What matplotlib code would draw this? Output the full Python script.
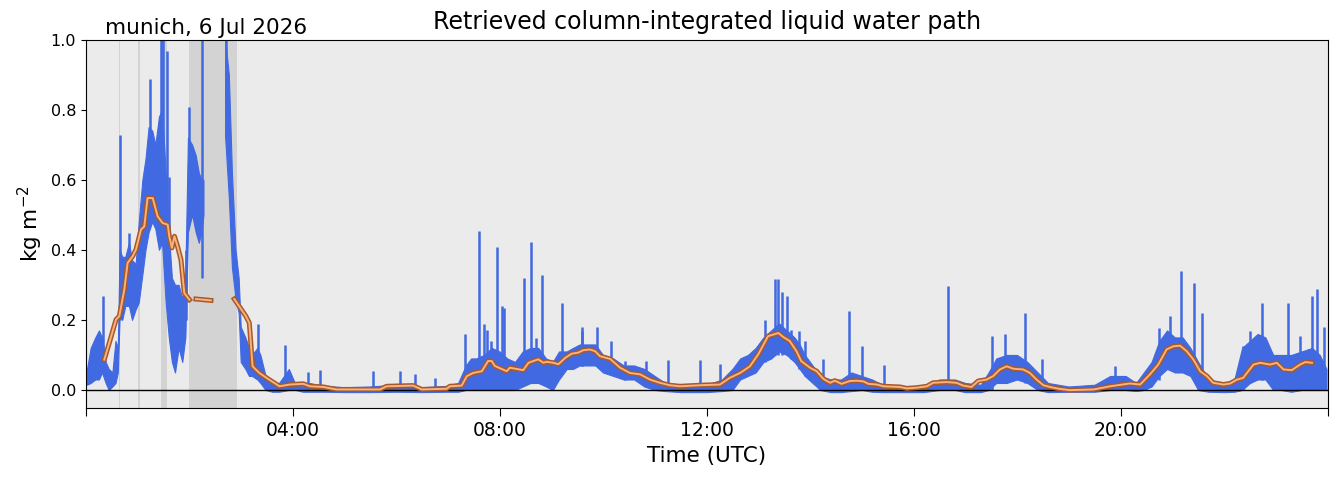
import numpy as np
import matplotlib
matplotlib.use("Agg")
import matplotlib.pyplot as plt
import matplotlib.patheffects as pe

# --- retrieved LWP: lower/upper edge of the dense point cloud (hours UTC, kg m-2)
band_t = [0.03, 0.10, 0.19, 0.26, 0.32, 0.39, 0.45, 0.52, 0.58, 0.625, 0.66, 0.71, 0.77, 0.84, 0.90,
          0.97, 1.03, 1.10, 1.16, 1.22, 1.29, 1.35, 1.42, 1.48, 1.55, 1.61, 1.67, 1.73, 1.80, 1.87,
          1.93, 1.98, 2.06, 2.13, 2.19, 2.24, 2.28, 2.50, 2.70, 2.77, 2.83, 2.90, 2.96, 3.00, 3.09,
          3.16, 3.22, 3.32, 3.38, 3.48, 3.61, 3.74, 3.93, 4.06, 4.2, 4.33, 4.6, 5.0, 5.5, 6.0, 6.5,
          7.0, 7.2, 7.35, 7.45, 7.55, 7.7, 7.85, 8.0, 8.15, 8.3, 8.45, 8.6, 8.75, 8.9, 9.03, 9.15,
          9.3, 9.42, 9.55, 9.7, 9.85, 10.0, 10.2, 10.4, 10.6, 10.8, 11.0, 11.2, 11.5, 12.0, 12.3,
          12.5, 12.65, 12.8, 12.95, 13.1, 13.25, 13.4, 13.55, 13.7, 13.8, 13.9, 14.05, 14.2, 14.4,
          14.6, 14.8, 15.0, 15.2, 15.4, 15.8, 16.2, 16.5, 16.8, 17.0, 17.3, 17.45, 17.6, 17.8, 18.0,
          18.2, 18.4, 18.6, 19.0, 19.5, 19.8, 20.1, 20.3, 20.45, 20.6, 20.75, 20.9, 21.05, 21.2,
          21.35, 21.5, 21.7, 22.0, 22.2, 22.35, 22.5, 22.65, 22.8, 22.95, 23.1, 23.3, 23.5, 23.7,
          23.85, 23.98]
band_lo = [0.015, 0.02, 0.03, 0.03, 0.05, 0.02, 0.00, 0.01, 0.02, 0.05, 0.21, 0.20, 0.24, 0.24, 0.20,
           0.23, 0.25, 0.33, 0.40, 0.45, 0.48, 0.46, 0.40, 0.42, 0.25, 0.15, 0.08, 0.05, 0.12, 0.08,
           0.15, 0.45, 0.50, 0.45, 0.42, 0.45, 0.50, np.nan, 0.72, 0.55, 0.35, 0.26, 0.22, 0.08, 0.06,
           0.04, 0.04, 0.03, 0.02, 0.00, -0.005, -0.005, 0.00, 0.00, -0.005, -0.005, -0.005, -0.006,
           -0.006, -0.005, -0.006, -0.005, -0.005, 0.00, 0.00, 0.00, 0.00, 0.00, 0.00, 0.00, 0.00,
           0.01, 0.02, 0.02, 0.01, 0.00, 0.03, 0.06, 0.06, 0.07, 0.07, 0.07, 0.05, 0.04, 0.03, 0.03,
           0.01, 0.00, -0.003, -0.006, -0.006, -0.003, 0.00, 0.03, 0.04, 0.05, 0.08, 0.09, 0.11, 0.10,
           0.08, 0.06, 0.04, 0.02, 0.00, -0.006, -0.006, -0.003, 0.00, -0.005, -0.006, -0.006, -0.006,
           0.00, 0.00, -0.006, -0.006, 0.00, 0.02, 0.02, 0.03, 0.02, 0.00, -0.006, -0.005, -0.005,
           0.00, 0.00, -0.003, 0.00, 0.01, 0.04, 0.06, 0.05, 0.05, 0.04, 0.00, -0.005, -0.006, -0.005,
           0.00, 0.02, 0.03, 0.03, 0.00, 0.00, -0.005, 0.00, 0.00, 0.00, 0.00]
band_hi = [0.06, 0.12, 0.15, 0.17, 0.15, 0.08, 0.06, 0.05, 0.14, 0.12, 0.40, 0.38, 0.38, 0.42, 0.37,
           0.36, 0.48, 0.60, 0.66, 0.75, 0.74, 0.70, 0.78, 0.80, 0.62, 0.45, 0.32, 0.30, 0.30, 0.26,
           0.33, 0.72, 0.70, 0.67, 0.62, 0.60, 0.60, np.nan, 1.00, 0.90, 0.62, 0.40, 0.32, 0.18, 0.15,
           0.12, 0.10, 0.12, 0.10, 0.04, 0.02, 0.02, 0.06, 0.015, 0.01, 0.02, 0.012, 0.008, 0.01,
           0.015, 0.008, 0.012, 0.02, 0.07, 0.09, 0.09, 0.10, 0.12, 0.11, 0.09, 0.08, 0.11, 0.12,
           0.12, 0.09, 0.08, 0.11, 0.11, 0.12, 0.13, 0.13, 0.13, 0.10, 0.09, 0.07, 0.07, 0.06, 0.04,
           0.02, 0.015, 0.015, 0.03, 0.06, 0.09, 0.10, 0.12, 0.15, 0.17, 0.19, 0.17, 0.15, 0.13, 0.10,
           0.07, 0.04, 0.03, 0.03, 0.05, 0.04, 0.03, 0.015, 0.01, 0.012, 0.03, 0.03, 0.02, 0.015,
           0.05, 0.09, 0.10, 0.10, 0.08, 0.05, 0.02, 0.01, 0.015, 0.04, 0.04, 0.02, 0.05, 0.08, 0.14,
           0.17, 0.15, 0.15, 0.12, 0.08, 0.03, 0.02, 0.03, 0.12, 0.14, 0.16, 0.15, 0.10, 0.10, 0.10,
           0.11, 0.12, 0.10, 0.06]

# narrow vertical streaks of points sticking out of the cloud
spike_t = [0.32, 0.655, 0.84, 1.24, 1.45, 1.49, 1.56, 1.60, 1.93, 1.99, 2.25, 2.71, 3.32, 3.85, 4.29,
           4.52, 5.55, 6.07, 6.36, 6.74, 7.32, 7.59, 7.70, 7.75, 7.82, 7.94, 8.03, 8.08, 8.47, 8.60,
           8.70, 8.82, 9.19, 9.58, 9.59, 9.87, 10.14, 10.42, 10.83, 11.24, 11.86, 12.25, 13.12, 13.32,
           13.38, 13.45, 13.54, 13.62, 13.78, 13.89, 14.25, 14.75, 14.99, 15.42, 16.65, 17.51, 17.75,
           18.14, 18.47, 19.88, 20.74, 20.95, 21.16, 21.41, 21.56, 22.35, 22.50, 22.72, 23.23, 23.46,
           23.69, 23.79, 23.92]
spike_base = [0.05, 0.20, 0.30, 0.50, 0.50, 0.45, 0.50, 0.30, 0.20, 0.50, 0.32, 0.72, 0.05, 0.0, 0.0,
              0.0, 0.0, 0.0, 0.0, 0.0, 0.0, 0.05, 0.05, 0.05, 0.03, 0.05, 0.05, 0.05, 0.05, 0.05,
              0.05, 0.05, 0.08, 0.07, 0.07, 0.07, 0.05, 0.03, 0.01, 0.0, 0.0, 0.0, 0.08, 0.10,
              0.10, 0.10, 0.10, 0.09, 0.06, 0.04, 0.0, 0.0, 0.0, 0.0, 0.03, 0.0, 0.02,
              0.02, 0.0, 0.0, 0.03, 0.06, 0.06, 0.04, 0.0, 0.0, 0.02, 0.03, 0.0, 0.0,
              0.0, 0.0, 0.0]
spike_top = [0.27, 0.73, 0.45, 0.89, 1.00, 1.00, 0.97, 0.61, 0.40, 0.81, 1.00, 1.00, 0.19, 0.13, 0.053,
             0.058, 0.055, 0.055, 0.048, 0.035, 0.16, 0.454, 0.19, 0.174, 0.14, 0.41, 0.24, 0.236, 0.32,
             0.425, 0.15, 0.33, 0.25, 0.18, 0.17, 0.18, 0.14, 0.084, 0.084, 0.088, 0.088, 0.077, 0.20,
             0.317, 0.317, 0.28, 0.27, 0.174, 0.17, 0.14, 0.09, 0.226, 0.126, 0.074, 0.297, 0.155,
             0.16, 0.221, 0.09, 0.069, 0.178, 0.212, 0.34, 0.306, 0.22, 0.126, 0.17, 0.25, 0.25,
             0.155, 0.27, 0.29, 0.18]

# smoothed LWP (NaN = gap)
smooth_t = [0.354, 0.451, 0.58, 0.644, 0.741, 0.805, 0.902, 0.966, 1.063, 1.127, 1.19, 1.29, 1.385,
            1.48, 1.58, 1.61, 1.66, 1.71, 1.77, 1.836, 1.90, 2.0, 2.06, 2.126, 2.415, 2.6, 2.866,
            2.963, 3.09, 3.156, 3.22, 3.35, 3.54, 3.74, 3.94, 4.2, 4.33, 4.59, 4.84, 5.68, 5.81, 6.32,
            6.49, 6.97, 7.03, 7.26, 7.36, 7.48, 7.65, 7.77, 7.84, 7.90, 8.13, 8.19, 8.45, 8.55, 8.74,
            8.84, 8.90, 9.03, 9.13, 9.26, 9.385, 9.51, 9.61, 9.74, 9.84, 9.93, 10.13, 10.32, 10.51,
            10.71, 10.90, 11.09, 11.28, 11.48, 11.86, 12.25, 12.44, 12.64, 12.83, 12.99, 13.18, 13.38,
            13.47, 13.60, 13.73, 13.82, 13.99, 14.12, 14.25, 14.38, 14.47, 14.60, 14.76, 14.89, 15.02,
            15.12, 15.28, 15.41, 15.73, 15.86, 16.05, 16.25, 16.37, 16.63, 16.82, 16.95, 17.11, 17.24,
            17.40, 17.53, 17.66, 17.79, 17.92, 18.11, 18.24, 18.37, 18.50, 18.63, 18.8, 19.01, 19.47,
            19.79, 20.17, 20.37, 20.56, 20.72, 20.88, 21.01, 21.14, 21.27, 21.40, 21.53, 21.66, 21.78,
            21.98, 22.11, 22.24, 22.36, 22.56, 22.69, 22.88, 23.01, 23.14, 23.30, 23.46, 23.56, 23.69]
smooth_v = [0.088, 0.136, 0.202, 0.212, 0.288, 0.364, 0.383, 0.402, 0.459, 0.468, 0.549, 0.549, 0.497,
            0.478, 0.473, 0.44, 0.407, 0.44, 0.411, 0.373, 0.278, 0.259, np.nan, 0.261, 0.257, np.nan,
            0.261, 0.240, 0.212, 0.193, 0.069, 0.050, 0.031, 0.012, 0.017, 0.019, 0.012, 0.010, 0.003,
            0.003, 0.012, 0.014, 0.003, 0.005, 0.012, 0.014, 0.041, 0.050, 0.055, 0.084, 0.084, 0.070,
            0.055, 0.065, 0.058, 0.079, 0.089, 0.079, 0.082, 0.079, 0.075, 0.093, 0.105, 0.108, 0.115,
            0.117, 0.112, 0.098, 0.090, 0.065, 0.050, 0.046, 0.031, 0.022, 0.015, 0.012, 0.015, 0.017,
            0.036, 0.050, 0.069, 0.103, 0.155, 0.164, 0.153, 0.141, 0.112, 0.084, 0.065, 0.055, 0.033,
            0.022, 0.028, 0.019, 0.027, 0.028, 0.026, 0.019, 0.017, 0.012, 0.010, 0.006, 0.008, 0.012,
            0.022, 0.024, 0.022, 0.014, 0.010, 0.027, 0.031, 0.041, 0.060, 0.069, 0.062, 0.060, 0.050,
            0.031, 0.015, 0.010, 0.005, 0.001, 0.003, 0.012, 0.020, 0.017, 0.046, 0.074, 0.117, 0.126,
            0.128, 0.112, 0.088, 0.055, 0.041, 0.022, 0.017, 0.020, 0.031, 0.036, 0.074, 0.079, 0.074,
            0.079, 0.060, 0.058, 0.074, 0.081, 0.079]

# rain flag periods (hours UTC)
flag_start = [0.640, 1.015, 1.449, 1.99]
flag_end = [0.665, 1.035, 1.559, 2.91]

station = "munich, 6 Jul 2026"
tick_hours = [0, 4, 8, 12, 16, 20, 24]
tick_labels = ["", "04:00", "08:00", "12:00", "16:00", "20:00", ""]

fig = plt.figure(figsize=(13.39, 4.78), dpi=100)
ax = fig.add_axes([0.0642, 0.1464, 0.9276, 0.7699])
ax.set_facecolor("#ebebeb")

for s, e in zip(flag_start, flag_end):
    ax.axvspan(s, e, color="lightgray", lw=0, zorder=1)

ax.fill_between(band_t, band_lo, band_hi, color="royalblue", lw=0.8, edgecolor="royalblue", zorder=2)
ax.vlines(spike_t, spike_base, spike_top, color="royalblue", lw=1.8, zorder=2)

ax.axhline(0, color="black", lw=1, zorder=3)

ax.plot(smooth_t, smooth_v, color="#f6b47c", lw=1.4, zorder=4,
        path_effects=[pe.Stroke(linewidth=3.6, foreground="#a9582a"), pe.Normal()])

ax.set_xlim(0, 24)
ax.set_ylim(-0.05, 1.0)
ax.set_xticks(tick_hours)
ax.set_xticklabels(tick_labels, fontsize=13.5)
ax.tick_params(axis="x", length=6)
ax.set_yticks([0.0, 0.2, 0.4, 0.6, 0.8, 1.0])
ax.tick_params(axis="y", labelsize=11.5)
ax.set_xlabel("Time (UTC)", fontsize=15.5)
ax.set_ylabel("kg m$^{-2}$", fontsize=15.5)
ax.set_title("Retrieved column-integrated liquid water path", fontsize=17, pad=8)
ax.text(0.015, 1.005, station, transform=ax.transAxes, fontsize=15.5, va="bottom", ha="left")

fig.savefig("out.png", dpi=100)
